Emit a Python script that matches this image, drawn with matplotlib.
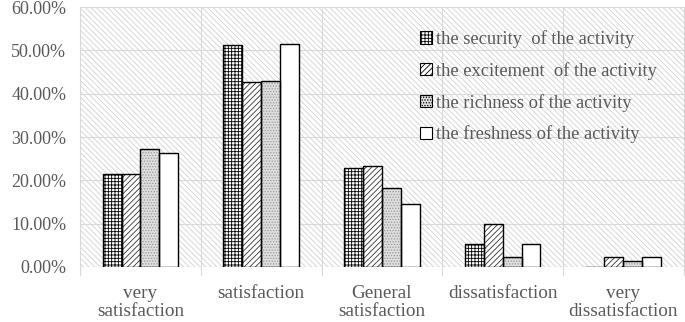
import numpy as np
import matplotlib.pyplot as plt
from matplotlib.patches import Rectangle
import matplotlib as mpl

mpl.rcParams.update({
    "font.family": ["Liberation Serif", "DejaVu Serif"],
    "font.size": 12,
    "hatch.linewidth": 0.6,
})

categories = ["very\nsatisfaction", "satisfaction", "General\nsatisfaction",
              "dissatisfaction", "very\ndissatisfaction"]
series_names = ["the security  of the activity", "the excitement  of the activity",
                "the richness of the activity", "the freshness of the activity"]
security = [21.4, 51.2, 22.8, 5.3, 0.0]
excitement = [21.4, 42.7, 23.4, 9.8, 2.4]
richness = [27.3, 42.9, 18.2, 2.4, 1.4]
freshness = [26.3, 51.5, 14.5, 5.3, 2.4]
yticks = [0, 10, 20, 30, 40, 50, 60]

TEXT = "#595959"
GRID = "#d9d9d9"

fig = plt.figure(figsize=(6.85, 3.22), dpi=100)
ax = fig.add_axes([0.117, 0.171, 0.881, 0.807])

# hatched plot-area background
bg = Rectangle((0, 0), 1, 1, transform=ax.transAxes, facecolor="white",
               edgecolor="#d2d2d2", hatch="\\\\\\\\\\\\", linewidth=0, zorder=0)
ax.add_patch(bg)

x = np.arange(len(categories))
w = 0.157
styles = [
    dict(facecolor="white", hatch="+++++", hatch_edge="black"),
    dict(facecolor="white", hatch="//////", hatch_edge="#333333"),
    dict(facecolor="#dedede", hatch="......", hatch_edge="#9a9a9a"),
    dict(facecolor="white", hatch=None, hatch_edge="black"),
]
data = [security, excitement, richness, freshness]
handles = []
for i, (vals, st, name) in enumerate(zip(data, styles, series_names)):
    pos = x + (i - 1.5) * w
    ax.bar(pos, vals, w, facecolor=st["facecolor"], edgecolor=st["hatch_edge"],
           hatch=st["hatch"], linewidth=0, zorder=3)
    ax.bar(pos, vals, w, facecolor="none", edgecolor="black",
           linewidth=1.0, zorder=4)
    handles.append(Rectangle((0, 0), 1, 1, facecolor=st["facecolor"],
                             edgecolor="black", hatch=st["hatch"], linewidth=0.8))

ax.set_xlim(-0.5, len(categories) - 0.5)
ax.set_ylim(0, 60)
ax.set_yticks(yticks)
ax.set_yticklabels([f"{v:.2f}%" for v in yticks], color=TEXT, fontsize=13)
ax.set_xticks(x)
ax.set_xticklabels(categories, color=TEXT, fontsize=13.8, linespacing=1.1)
ax.tick_params(axis="y", length=0, pad=10)
ax.tick_params(axis="x", length=0, pad=13)

# grid lines
for v in yticks[1:]:
    ax.axhline(v, color=GRID, linewidth=0.8, zorder=1)
for b in np.arange(-0.5, len(categories), 1.0):
    ax.plot([b, b], [-1.9, 60], color=GRID, linewidth=0.8, zorder=1, clip_on=False)
ax.axhline(0, color=GRID, linewidth=1.0, zorder=2)

for s in ax.spines.values():
    s.set_visible(False)

leg = ax.legend(handles, series_names, loc="upper left", bbox_to_anchor=(0.535, 0.975),
                frameon=False, fontsize=13.3, handlelength=0.65, handleheight=0.65,
                handletextpad=0.25, labelspacing=0.75, labelcolor=TEXT)

fig.savefig("out.png", dpi=100)
